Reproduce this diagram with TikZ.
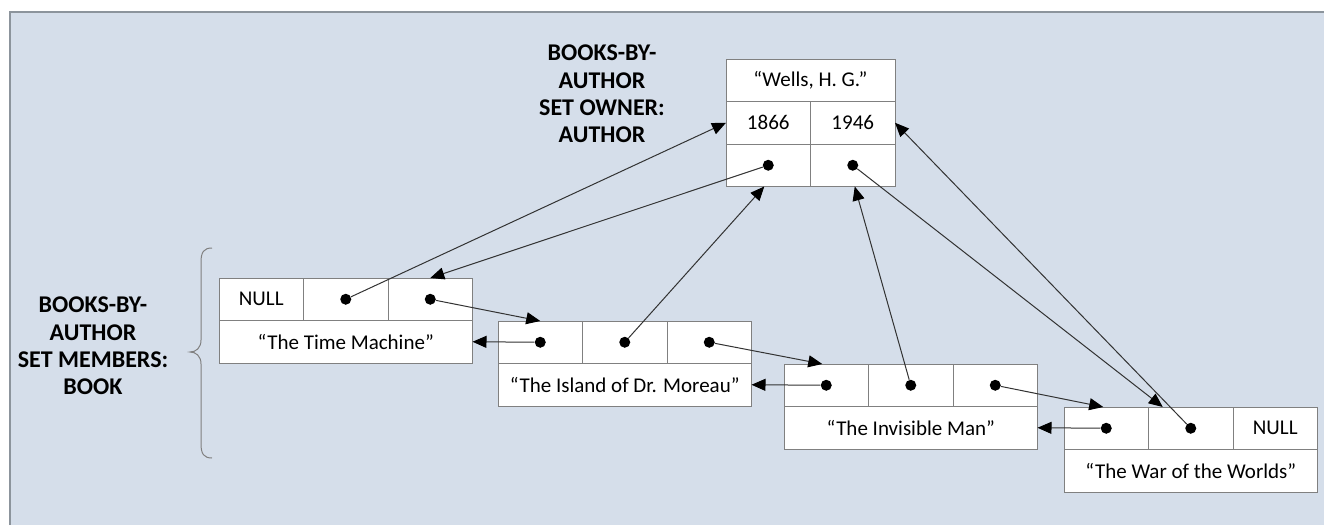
\documentclass[tikz,border=0pt]{standalone}
\usepackage{fontspec}
\setmainfont{Carlito}
\usetikzlibrary{arrows.meta,calc}
\definecolor{panel}{RGB}{213,222,234}
\definecolor{bordergray}{RGB}{140,148,156}
\definecolor{boxgray}{RGB}{128,128,128}
\definecolor{connc}{RGB}{50,50,50}
\newcommand\bxfont{\fontsize{15.75}{19}\selectfont}
\newcommand\lblfont{\fontsize{18}{20.6}\selectfont\bfseries}
\begin{document}
\begin{tikzpicture}[x=0.75pt,y=-0.75pt,
  cell/.style={draw=boxgray, line width=0.75pt, fill=white, minimum width=63.375pt,
    minimum height=31.875pt, inner sep=0pt, outer sep=0pt, anchor=north west, font=\bxfont},
  wide/.style={cell, minimum width=126.75pt},
  title/.style={cell, minimum width=190.125pt},
  ptr/.style={circle, fill=black, inner sep=0pt, minimum size=8.25pt},
  conn/.style={draw=connc, line width=0.75pt, -{Triangle[length=10.5pt,width=9pt,color=black]}},
  lbl/.style={align=center, font=\lblfont, text=black, inner sep=0pt}]
\path[use as bounding box] (0,0) rectangle (1324,525);
\fill[white] (0,0) rectangle (1324,525);
\fill[panel] (10,12) rectangle (1324,525);
\draw[bordergray, line width=1.2pt] (10,525) -- (10,12) -- (1324,12);

% owner
\node[wide] (aname) at (726,59) {“Wells, H. G.”};
\node[cell] (ab) at (726,101.5) {1866};
\node[cell] (ad) at (810.5,101.5) {1946};
\node[cell] (ap1) at (726,144) {};
\node[cell] (ap2) at (810.5,144) {};

% members
\node[cell] (tmA) at (219,278) {NULL};
\node[cell] (tmB) at (303.5,278) {};
\node[cell] (tmC) at (388,278) {};
\node[title] (tmT) at (219,320.5) {“The Time Machine”};

\node[cell] (isA) at (498,321) {};
\node[cell] (isB) at (582.5,321) {};
\node[cell] (isC) at (667,321) {};
\node[title] (isT) at (498,363.5) {“The Island of Dr. Moreau”};

\node[cell] (imA) at (784,364) {};
\node[cell] (imB) at (868.5,364) {};
\node[cell] (imC) at (953,364) {};
\node[title] (imT) at (784,406.5) {“The Invisible Man”};

\node[cell] (wwA) at (1064,407) {};
\node[cell] (wwB) at (1148.5,407) {};
\node[cell] (wwC) at (1233,407) {NULL};
\node[title] (wwT) at (1064,449.5) {“The War of the Worlds”};

% pointer dots
\node[ptr] (ap1d) at (ap1.center) {};
\node[ptr] (ap2d) at (ap2.center) {};
\node[ptr] (tmBd) at (tmB.center) {};
\node[ptr] (tmCd) at (tmC.center) {};
\node[ptr] (isAd) at (isA.center) {};
\node[ptr] (isBd) at (isB.center) {};
\node[ptr] (isCd) at (isC.center) {};
\node[ptr] (imAd) at (imA.center) {};
\node[ptr] (imBd) at (imB.center) {};
\node[ptr] (imCd) at (imC.center) {};
\node[ptr] (wwAd) at (wwA.center) {};
\node[ptr] (wwBd) at (wwB.center) {};

% connectors
\draw[conn] (tmBd) -- (ab.west);
\draw[conn] (ap1d) -- (tmC.north);
\draw[conn] (tmCd) -- (isA.north);
\draw[conn] (isAd) -- (tmT.east);
\draw[conn] (isBd) -- ($(ap1.south)+(-4,0)$);
\draw[conn] (isCd) -- ($(imA.north)+(-4,0)$);
\draw[conn] (imAd) -- (isT.east);
\draw[conn] (imBd) -- ($(ap2.south)+(2,0)$);
\draw[conn] (imCd) -- ($(wwA.north)+(-3,0)$);
\draw[conn] (wwAd) -- (imT.east);
\draw[conn] (wwBd) -- (ad.east);
\draw[conn] (ap2d) -- ($(wwB.north)+(-28,0)$);

% labels
\node[lbl] (ownerlbl) at (602,94) {BOOKS-BY-\\AUTHOR\\SET OWNER:\\AUTHOR};
\node[lbl] (memberlbl) at (93,346) {BOOKS-BY-\\AUTHOR\\SET MEMBERS:\\BOOK};

% brace
\draw[boxgray, line width=0.75pt] (212,248) .. controls (204,248) and (201,252) .. (201,262)
  -- (201,340) .. controls (201,348) and (196,352) .. (190,352)
  .. controls (196,352) and (201,356) .. (201,364)
  -- (201,444) .. controls (201,454) and (204,458) .. (212,458);
\end{tikzpicture}
\end{document}
